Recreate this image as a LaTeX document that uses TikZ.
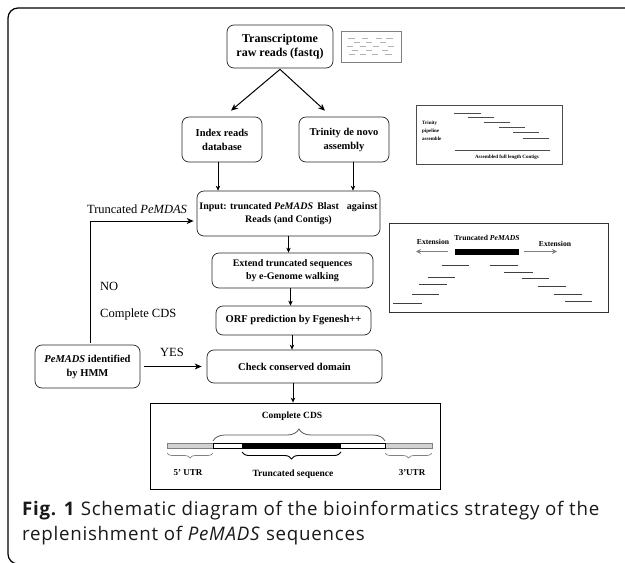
\documentclass[tikz,border=0pt]{standalone}
\usepackage{fontspec}
\setmainfont{Liberation Serif}
\newfontfamily\capfont[LetterSpace=4]{Open Sans}
\usetikzlibrary{arrows.meta,decorations.pathreplacing,calc}
\begin{document}
\begin{tikzpicture}[x=1pt,y=-1pt,
  box/.style={draw=black!85,line width=0.7pt,rounded corners=7pt,align=center,inner sep=0pt,font=\bfseries},
  arr/.style={-{Stealth[length=5pt,width=4.5pt]},line width=0.6pt},
  bigarr/.style={-{Stealth[length=7pt,width=6pt]},line width=1pt},
  readln/.style={line width=0.9pt,black!75},
  dsh/.style={gray!60,line width=0.6pt},
  lbl/.style={font=\fontsize{12.5}{14}\selectfont,inner sep=0pt}]
\useasboundingbox (0,0) rectangle (625,563);
% outer frame
\draw[line width=1.2pt,rounded corners=10pt] (626,8) -- (8,8) -- (8,564) -- (626,564);
% main boxes
\node[box,minimum width=106,minimum height=43,font=\bfseries\fontsize{12}{14}\selectfont] (raw) at (280,46.5) {Transcriptome\\raw reads (fastq)};
\node[box,minimum width=80,minimum height=45,font=\bfseries\fontsize{10.5}{14}\selectfont] (index) at (222,139.5) {Index reads\\database};
\node[box,minimum width=90,minimum height=45,font=\bfseries\fontsize{10.5}{14}\selectfont] (trin) at (344,139.5) {Trinity de novo\\assembly};
\node[box,minimum width=183,minimum height=45,font=\bfseries\fontsize{10}{13}\selectfont] (input) at (288.5,213.5) {Input: truncated \textit{PeMADS}\, Blast\;\; against\\Reads (and Contigs)};
\node[box,minimum width=161,minimum height=35,font=\bfseries\fontsize{10}{13}\selectfont] (ext) at (292.5,270.5) {Extend truncated sequences\\by e-Genome walking};
\node[box,minimum width=155,minimum height=29,font=\bfseries\fontsize{10.5}{13}\selectfont] (orf) at (293.5,320.5) {ORF prediction by Fgenesh++};
\node[box,minimum width=175,minimum height=33,font=\bfseries\fontsize{10.5}{13}\selectfont] (check) at (294.5,366.5) {Check conserved domain};
\node[box,minimum width=105,minimum height=43,font=\bfseries\fontsize{10.5}{14}\selectfont] (pem) at (87.5,366.5) {\textit{PeMADS} identified\\by HMM};
\node[draw=black,line width=0.9pt,minimum width=290,minimum height=86,inner sep=0pt] (cds) at (295,446) {};
% raw reads icon
\node[draw=black!50,line width=0.6pt,minimum width=60,minimum height=31,inner sep=0pt] (icon) at (371,46.5) {};
\foreach \a/\b/\y in {348/355/38,362/368/38,376/382/38,386/393/38,354/360/42,366/372/42,380/386/42,347/353/46,360/366/46,373/379/46,388/394/46,352/358/50,366/372/50,382/388/50,349/355/54,360/366/54,372/378/54,385/392/54}
  \draw[dsh] (\a,\y) -- (\b,\y);
% arrows
\draw[bigarr] ([yshift=-1pt]raw.south) -- ([xshift=9pt,yshift=6pt]index.north);
\draw[bigarr] ([yshift=-1pt]raw.south) -- ([xshift=-19pt,yshift=6pt]trin.north);
\draw[arr] ([xshift=-4pt]index.south) -- ([xshift=-4pt]index.south |- input.north);
\draw[arr] ([xshift=9pt]trin.south) -- ([xshift=9pt]trin.south |- input.north);
\draw[arr] (input.south) -- (input.south |- ext.north);
\draw[arr] ([xshift=-2pt]ext.south) -- ([xshift=-2pt]ext.south |- orf.north);
\draw[arr] ([xshift=-1.5pt]orf.south) -- ([xshift=-1.5pt]orf.south |- check.north);
\draw[arr] ([xshift=-1.5pt]check.south) -- ([xshift=-1.5pt]check.south |- cds.north);
\draw[bigarr,line width=0.8pt,shorten <=4pt,shorten >=5pt] (pem.east) -- (check.west);
\draw[bigarr,line width=0.9pt,shorten >=3pt] ([xshift=2.5pt,yshift=2pt]pem.north) |- ([yshift=-7.5pt]input.west);
% labels
\node[lbl] (ltr) at (137,209) {Truncated \textit{PeMDAS}};
\node[lbl,anchor=west] (lno) at (100,286) {NO};
\node[lbl,anchor=west] (lcc) at (100,314) {Complete CDS};
\node[lbl] (lyes) at (172,352) {YES};
% trinity pipeline inset
\node[draw=black!70,line width=0.6pt,minimum width=146,minimum height=59,inner sep=0pt] (tpb) at (489,134.5) {};
\foreach \a/\b/\y in {454/481/113,468/494/117,484/510/122,499/525/127,513/539/132,523/549/138}
  \draw[black!70,line width=0.8pt] (\a,\y) -- (\b,\y);
\draw[black!70,line width=0.8pt] (455,150) -- (550,150);
\node[font=\bfseries\fontsize{5}{8}\selectfont,align=left,anchor=west,inner sep=0pt] (tpt) at (422,131) {Trinity\\pipeline\\assemble};
\node[font=\bfseries\fontsize{5}{6}\selectfont,inner sep=0pt] (tpc) at (507,157) {Assembled full length Contigs};
% extension inset
\node[draw=black!80,line width=0.7pt,minimum width=219,minimum height=89,inner sep=0pt] (exb) at (498.5,267.5) {};
\fill[black] (455,248.5) rectangle (519,254.5);
\node[font=\bfseries\fontsize{7.6}{9}\selectfont,inner sep=0pt] (ext1) at (487,238) {Truncated \textit{PeMADS}};
\node[font=\bfseries\fontsize{7.6}{9}\selectfont,inner sep=0pt] (ext2) at (433,242) {Extension};
\node[font=\bfseries\fontsize{7.6}{9}\selectfont,inner sep=0pt] (ext3) at (555,244) {Extension};
\draw[gray,line width=1pt,-{Stealth[length=5pt,width=5pt]}] (448,251.5) -- (416,251.5);
\draw[gray,line width=1pt,-{Stealth[length=5pt,width=5pt]}] (524,251.5) -- (557,251.5);
\foreach \a/\b/\y in {442/469/265.5,428/455/277,419/447/284,412/439/294,393/422/303,490/518/265.5,504/533/272,522/549/278,538/566/286,554/582/294,565/592/301.5}
  \draw[readln] (\a,\y) -- (\b,\y);
% CDS diagram
\draw[gray,fill=gray!35,line width=0.5pt] (167,443) rectangle (213,448.5);
\draw[gray,fill=gray!35,line width=0.5pt] (385,443) rectangle (432,448.5);
\draw[black,fill=white,line width=0.6pt] (213,443) rectangle (385,448.5);
\fill[black] (242,443) rectangle (341,448.5);
\draw[decorate,decoration={brace,amplitude=12pt},gray!70!black,line width=0.8pt] (213,441) -- (385,441);
\draw[decorate,decoration={brace,amplitude=5pt,mirror},gray,line width=0.7pt] (167,453) -- (213,453);
\draw[decorate,decoration={brace,amplitude=7pt,mirror},black,line width=0.9pt] (242,452) -- (341,452);
\draw[decorate,decoration={brace,amplitude=5pt,mirror},gray,line width=0.7pt] (385,453) -- (432,453);
\node[font=\bfseries\fontsize{9.5}{11}\selectfont,inner sep=0pt] (c1) at (292,416) {Complete CDS};
\node[font=\bfseries\fontsize{9}{11}\selectfont,inner sep=0pt] (c2) at (188,473) {5' UTR};
\node[font=\bfseries\fontsize{9.5}{11}\selectfont,inner sep=0pt] (c3) at (293,474) {Truncated sequence};
\node[font=\bfseries\fontsize{9}{11}\selectfont,inner sep=0pt] (c4) at (412,473) {3'UTR};
% caption
\node[font=\capfont\fontsize{18.7}{25}\selectfont,anchor=north west,align=left,inner sep=0pt,text=black!90] (cap) at (22,501) {\textbf{Fig. 1} Schematic diagram of the bioinformatics strategy of the\\replenishment of \textit{PeMADS} sequences};
\end{tikzpicture}
\end{document}
